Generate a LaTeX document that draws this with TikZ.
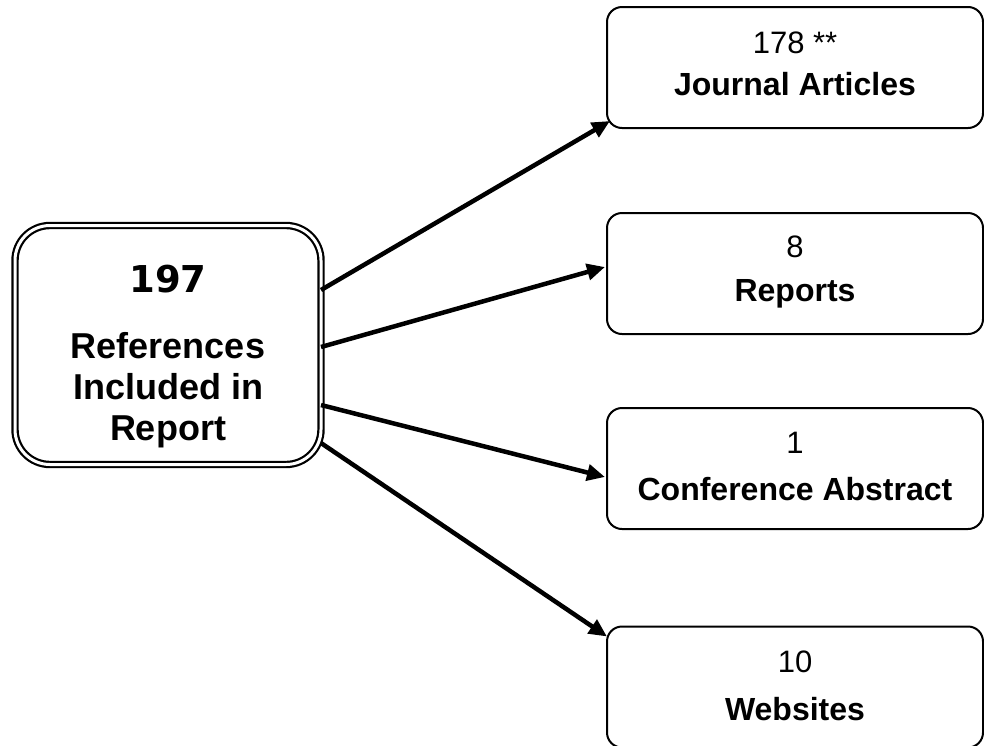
\documentclass[tikz,border=0pt]{standalone}
\usepackage{fontspec}
\setmainfont{Liberation Sans}
\newfontfamily\heavyfont{DejaVu Sans}
\usetikzlibrary{arrows.meta,calc}
\begin{document}
\begin{tikzpicture}[x=1pt,y=-1pt,
  catbox/.style={draw, line width=2pt, rounded corners=15pt, minimum width=376pt, minimum height=121pt, inner sep=0pt, outer sep=0pt},
  mainbox/.style={draw, line width=2.2pt, double, double distance=3pt, rounded corners=35pt, minimum width=306pt, minimum height=239pt, inner sep=0pt, outer sep=0pt},
  link/.style={line width=4.5pt, -{Triangle[length=18pt,width=16pt]}},
  numtxt/.style={font=\fontsize{31}{36}\selectfont, anchor=base, inner sep=0pt},
  cattxt/.style={font=\fontsize{32}{38}\selectfont\bfseries, anchor=base, inner sep=0pt},
  bigtxt/.style={font=\fontsize{36}{41}\selectfont\bfseries, anchor=base, inner sep=0pt},
  heavytxt/.style={font=\fontsize{37}{44}\selectfont\heavyfont\bfseries, anchor=base, inner sep=0pt}]
\useasboundingbox (0,0) rectangle (984,745);

\node[mainbox] (L) at (168,345) {};
\node[catbox] (J) at (795,67.5) {};
\node[catbox] (R) at (795,273.5) {};
\node[catbox] (C) at (795,468.5) {};
\node[catbox] (W) at (795,687) {};

\node[heavytxt] (L1) at (168,292) {197};
\node[bigtxt] (L2) at (168,358) {References};
\node[bigtxt] (L3) at (168,399) {Included in};
\node[bigtxt] (L4) at (168,440) {Report};

\node[numtxt] (J1) at (795,53) {178 **};
\node[cattxt] (J2) at (795,95) {Journal Articles};
\node[numtxt] (R1) at (795,257) {8};
\node[cattxt] (R2) at (795,301.5) {Reports};
\node[numtxt] (C1) at (795,453) {1};
\node[cattxt] (C2) at (795,500.5) {Conference Abstract};
\node[numtxt] (W1) at (795,672) {10};
\node[cattxt] (W2) at (795,720) {Websites};

\draw[link] ($(L.east)+(0,-55)$) -- ($(J.south west)+(3,-7)$);
\draw[link] ($(L.east)+(0,2)$) -- ($(R.west)+(-2,-6.5)$);
\draw[link] ($(L.east)+(0,60)$) -- ($(C.west)+(-2,8.5)$);
\draw[link] ($(L.east)+(0,98)$) -- ($(W.north west)+(0,10)$);
\end{tikzpicture}
\end{document}
